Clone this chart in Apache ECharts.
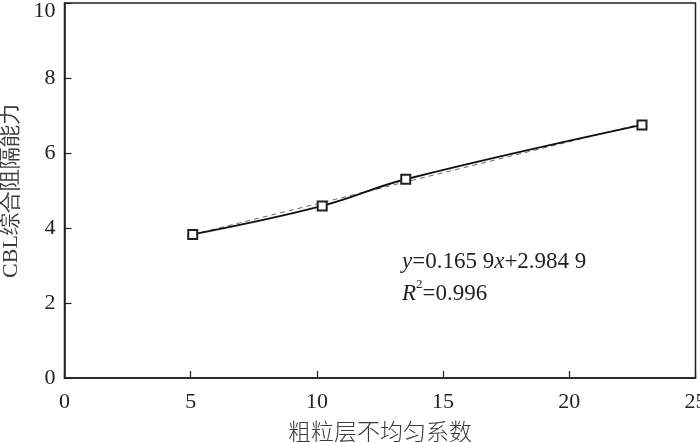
<!DOCTYPE html>
<html>
<head>
<meta charset="utf-8">
<script src="https://cdn.jsdelivr.net/npm/echarts@6/dist/echarts.min.js"></script>
<style>
  html, body { margin: 0; padding: 0; background: #fff; }
  #main { width: 700px; height: 442px; }
</style>
</head>
<body>
<div id="main"></div>
<script>
    // 数据
    var xValues = [5.08, 10.21, 13.52, 22.88]
    var yValues = [3.83, 4.59, 5.30, 6.75]
    var fitSlope = 0.1659
    var fitIntercept = 2.9849
    var xTicks = [0, 5, 10, 15, 20, 25]
    var yTicks = [0, 2, 4, 6, 8, 10]

    var serif = '"Liberation Serif", "Times New Roman", serif'
    var cjk = '"Noto Sans CJK SC", sans-serif'
    var ink = '#231f20'

    var points = xValues.map(function (x, i) { return [x, yValues[i]] })
    var x0 = xValues[0], x1 = xValues[xValues.length - 1]
    var fitLine = [[x0, fitSlope * x0 + fitIntercept], [x1, fitSlope * x1 + fitIntercept]]
    var yMax = yTicks[yTicks.length - 1]

    var myChart = echarts.init(document.getElementById('main'))
    var option = {
        animation: false,
        grid: {
            left: 64.5, right: 4.5, top: 3, bottom: 64,
            outerBoundsMode: 'none', containLabel: false,
            show: true, borderColor: ink, borderWidth: 1.5
        },
        xAxis: {
            type: 'value',
            min: xTicks[0], max: xTicks[xTicks.length - 1], interval: 5,
            name: '粗粒层不均匀系数',
            nameLocation: 'middle',
            nameGap: 42,
            nameTextStyle: { fontFamily: cjk, fontSize: 23, color: '#3a3a3a', fontWeight: 300 },
            axisLine: { lineStyle: { color: ink, width: 1.5 } },
            axisTick: { inside: true, length: 7, lineStyle: { color: ink, width: 1.2 } },
            axisLabel: { margin: 13, fontFamily: serif, fontSize: 22, color: '#222' },
            splitLine: { show: false }
        },
        yAxis: {
            type: 'value',
            min: yTicks[0], max: yMax, interval: 2,
            name: 'CBL综合阻隔能力',
            nameLocation: 'middle',
            nameGap: 38,
            nameTextStyle: { fontFamily: serif, fontSize: 22, color: '#3a3a3a', padding: [0, 0, 0, 0] },
            axisLine: { lineStyle: { color: ink, width: 1.5 } },
            axisTick: { inside: true, length: 7, lineStyle: { color: ink, width: 1.2 } },
            axisLabel: {
                margin: 9, fontFamily: serif, fontSize: 22, color: '#222',
                formatter: function (v) { return v === yMax ? '{top|' + v + '}' : String(v) },
                rich: { top: { fontFamily: serif, fontSize: 22, color: '#222', padding: [16, 0, 0, 0] } }
            },
            splitLine: { show: false }
        },
        graphic: [{
            type: 'text',
            left: 402, top: 246,
            style: {
                text: '{i|y}=0.165 9{i|x}+2.984 9\n{i|R}{s|2}=0.996',
                fontFamily: serif, fontSize: 23, fill: '#222', lineHeight: 32,
                rich: {
                    i: { fontStyle: 'italic', fontFamily: serif, fontSize: 23, fill: '#222' },
                    s: { fontFamily: serif, fontSize: 13, fill: '#222', verticalAlign: 'top', padding: [0, 0, 10, 0] }
                }
            }
        }],
        series: [{
            name: '拟合',
            type: 'line',
            data: fitLine,
            symbol: 'none',
            lineStyle: { color: '#666', width: 1, type: [5, 4] },
            z: 1
        }, {
            name: '实测',
            type: 'line',
            data: points,
            smooth: 0.4,
            symbol: 'rect',
            symbolSize: 9,
            itemStyle: { color: '#fff', borderColor: ink, borderWidth: 2 },
            lineStyle: { color: '#111', width: 2 },
            z: 2
        }]
    }
    myChart.setOption(option)
</script>
</body>
</html>
